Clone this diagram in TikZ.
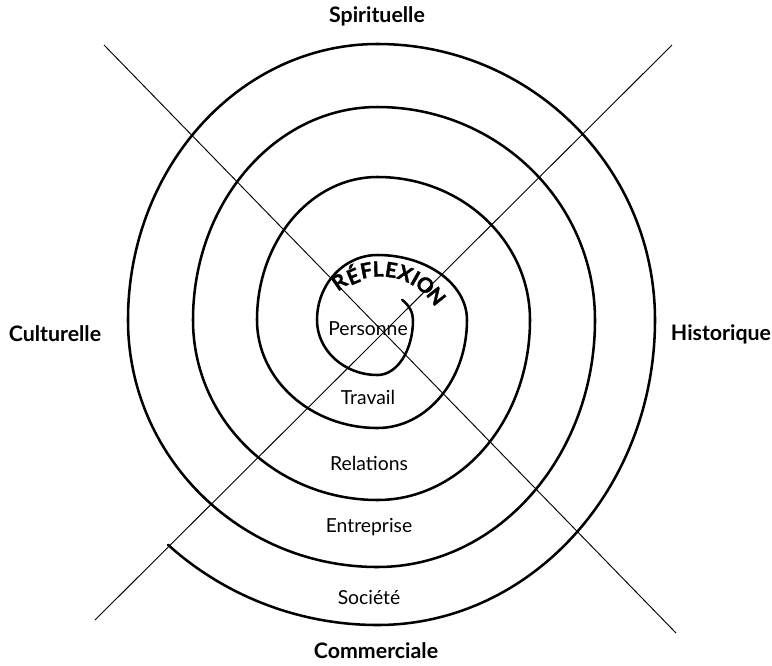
\documentclass[tikz,border=0pt]{standalone}
\usepackage{fontspec}
\setmainfont{Lato}
\newfontfamily\lourde{Lato}[BoldFeatures={FakeBold=1.6}]
\usepackage{tikz}
\usetikzlibrary{positioning}

\begin{document}
\begin{tikzpicture}[
  x=0.75pt, y=-0.75pt,
  axe/.style={line width=0.7pt},
  spirale/.style={line width=1.9pt, line cap=round, line join=round},
  pole/.style={font=\fontsize{16}{19}\selectfont\bfseries},
  domaine/.style={font=\fontsize{14.5}{17}\selectfont},
  lettre/.style={font=\lourde\fontsize{15.5}{18}\selectfont\bfseries, inner sep=0pt}
  ]
  \useasboundingbox (0,0) rectangle (772,665);
  % Spiral centre
  \def\cx{377.5}
  \def\cy{320}
  \coordinate (O) at (\cx,\cy);
  % Axes
  \coordinate (NO) at (104,45);
  \coordinate (SE) at (676,633);
  \coordinate (NE) at (672,45);
  \coordinate (SO) at (95,620);
  \draw[axe] (NO) -- (SE);
  \draw[axe] (SO) -- (NE);
  % Spiral, quarter by quarter
  \draw[spirale] ([shift={(-46:35.5 and 28)}]O)
    arc[start angle=-46, end angle=0, x radius=35.5, y radius=28]
    \foreach \a/\rx/\ry in {0/35.5/55, 90/60.5/55, 180/60.5/65, 270/89.5/65,
                            0/89.5/108, 90/120.5/108, 180/120.5/143, 270/152.5/143,
                            0/152.5/180, 90/184.5/180, 180/184.5/213, 270/217.5/213,
                            0/217.5/247, 90/249.5/247, 180/249.5/276, 270/277.5/276,
                            0/277.5/305} {
      arc[start angle=\a, delta angle=90, x radius=\rx, y radius=\ry]
    }
    arc[start angle=90, end angle=132.5, x radius=310, y radius=305];
  % Curved title, letter by letter
  \coordinate (T) at (380,341);
  \foreach \l/\ang [count=\i] in {R/235.5, É/247.5, F/259, L/268.5, E/279,
                                  X/290.5, I/299.5, O/309, N/321.5}
    \node[lettre, rotate=-\ang-90] (lettre-\i) at ([shift={(\ang:72)}]T) {\l};
  % Rings
  \node[domaine] (personne)   at (368,329) {Personne};
  \node[domaine] (travail)    at (368,397) {Travail};
  \node[domaine] (relations)  at (369,463) {Relations};
  \node[domaine] (entreprise) at (369,527) {Entreprise};
  \node[domaine] (societe)    at (369,598) {Société};
  % Poles
  \node[pole] (spirituelle) at (377,16)  {Spirituelle};
  \node[pole] (culturelle)  at (55,334)  {Culturelle};
  \node[pole] (historique)  at (721,334) {Historique};
  \node[pole] (commerciale) at (376,651) {Commerciale};
\end{tikzpicture}
\end{document}
